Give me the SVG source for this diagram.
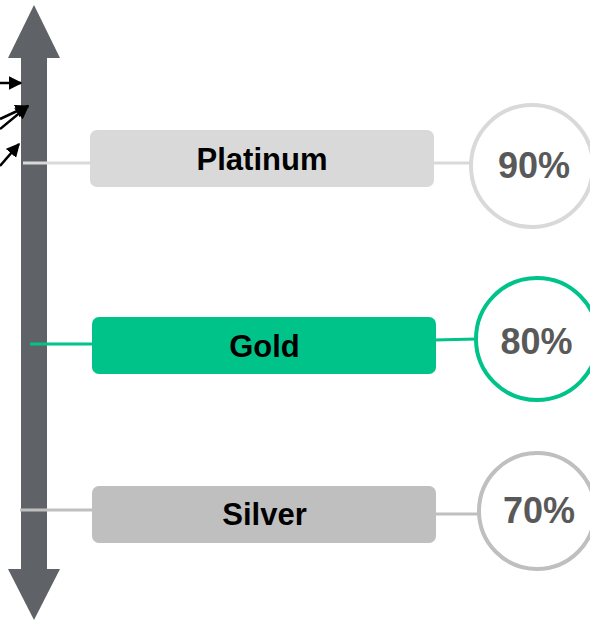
<svg xmlns="http://www.w3.org/2000/svg" width="590" height="621" viewBox="0 0 590 621">
  <defs>
    <marker id="tip" viewBox="0 0 10 10" refX="9" refY="5" markerWidth="5.5" markerHeight="5.5" orient="auto" markerUnits="strokeWidth">
      <path d="M0,0 L10,5 L0,10 Z" fill="#000"/>
    </marker>
    <style>
      .label { font-family: "Liberation Sans", Arial, sans-serif; font-weight: bold; font-size: 31px; fill: #000; text-anchor: middle; }
      .pct { font-family: "Liberation Sans", Arial, sans-serif; font-weight: bold; font-size: 36px; fill: #595959; text-anchor: middle; }
      .pointer { stroke: #000; stroke-width: 2.5; fill: none; marker-end: url(#tip); }
      .link { stroke-width: 3; fill: none; }
      .ring { fill: #fff; stroke-width: 4; }
    </style>
  </defs>

  <!-- vertical double-headed scale arrow -->
  <g id="scale">
    <rect x="21" y="56" width="26" height="515" fill="#5f6266"/>
    <polygon points="34,5 60,58 8,58" fill="#5f6266"/>
    <polygon points="34,620 60,569 8,569" fill="#5f6266"/>
  </g>

  <!-- connectors -->
  <g id="connectors">
    <line class="pointer" x1="0" y1="83" x2="21" y2="83"/>
    <line class="pointer" x1="0" y1="119" x2="28" y2="106"/>
    <line class="pointer" x1="0" y1="129" x2="28" y2="106"/>
    <line class="pointer" x1="0" y1="166" x2="19" y2="144"/>
    <line class="link" x1="23" y1="163" x2="92" y2="163" stroke="#d9d9d9"/>
    <line class="link" x1="432" y1="163" x2="472" y2="163" stroke="#d9d9d9"/>
    <line class="link" x1="30" y1="344" x2="94" y2="344" stroke="#00c389"/>
    <line class="link" x1="434" y1="340" x2="477" y2="339" stroke="#00c389"/>
    <line class="link" x1="20" y1="510" x2="94" y2="510" stroke="#bfbfbf"/>
    <line class="link" x1="434" y1="514" x2="479" y2="514" stroke="#bfbfbf"/>
  </g>

  <g id="platinum">
    <rect x="90" y="130" width="344" height="57" rx="7" fill="#d9d9d9"/>
    <text class="label" x="262" y="170">Platinum</text>
  </g>
  <g id="platinum-pct">
    <circle class="ring" cx="532" cy="166" r="61" stroke="#d9d9d9"/>
    <text class="pct" x="534" y="178">90%</text>
  </g>

  <g id="gold">
    <rect x="92" y="317" width="344" height="57" rx="7" fill="#00c389"/>
    <text class="label" x="264.5" y="357">Gold</text>
  </g>
  <g id="gold-pct">
    <circle class="ring" cx="537" cy="339" r="61" stroke="#00c389"/>
    <text class="pct" x="536.5" y="354">80%</text>
  </g>

  <g id="silver">
    <rect x="92" y="486" width="344" height="57" rx="7" fill="#bfbfbf"/>
    <text class="label" x="264.5" y="525">Silver</text>
  </g>
  <g id="silver-pct">
    <circle class="ring" cx="537" cy="511" r="58" stroke="#bfbfbf"/>
    <text class="pct" x="539" y="523">70%</text>
  </g>
</svg>
